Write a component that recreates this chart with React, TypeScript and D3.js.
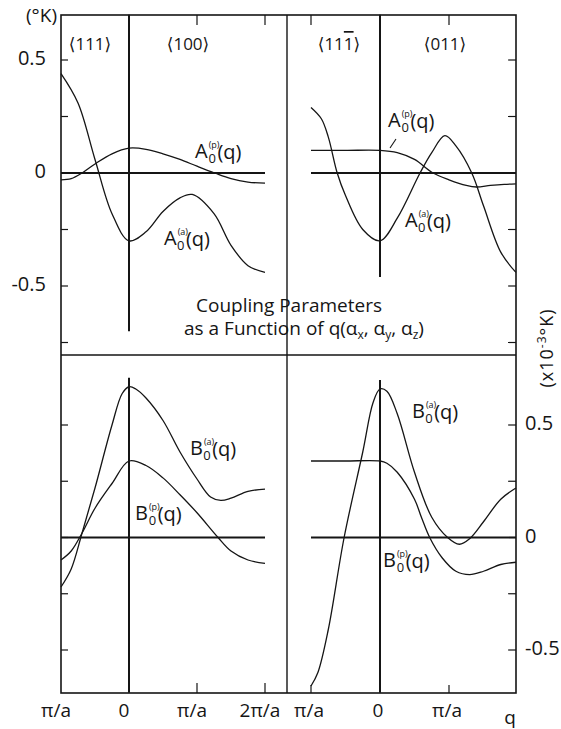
import React from 'react';
import * as d3 from 'd3';

// q in units of pi/a; negative side is the <111> direction
const qAaTL = [-1, -0.75, -0.5, -0.25, 0, 0.25, 0.5, 0.75, 0.93, 1.25, 1.5, 1.75, 2];
const vAaTL = [0.44, 0.31, 0.06, -0.18, -0.30, -0.26, -0.17, -0.11, -0.095, -0.18, -0.32, -0.41, -0.44];
const qApTL = [-1, -0.85, -0.69, -0.5, -0.25, 0, 0.25, 0.5, 0.75, 1, 1.26, 1.5, 1.75, 2];
const vApTL = [-0.03, -0.025, 0, 0.04, 0.085, 0.11, 0.105, 0.085, 0.06, 0.03, 0, -0.025, -0.04, -0.045];

const qAaTR = [-1, -0.85, -0.75, -0.62, -0.5, -0.25, 0, 0.25, 0.58, 0.75, 0.94, 1.1, 1.33, 1.5, 1.75, 1.97];
const vAaTR = [0.29, 0.24, 0.16, 0.0, -0.10, -0.25, -0.30, -0.20, 0, 0.09, 0.165, 0.12, 0.0, -0.145, -0.35, -0.44];
const qApTR = [-1, -0.5, 0, 0.25, 0.5, 0.77, 1.0, 1.25, 1.4, 1.6, 1.8, 1.97];
const vApTR = [0.10, 0.10, 0.10, 0.09, 0.06, 0.0, -0.03, -0.055, -0.062, -0.055, -0.05, -0.048];

const qBaBL = [-1, -0.85, -0.69, -0.5, -0.25, -0.1, 0, 0.1, 0.25, 0.5, 0.75, 1.0, 1.2, 1.35, 1.5, 1.75, 2];
const vBaBL = [-0.22, -0.14, 0.02, 0.22, 0.50, 0.64, 0.67, 0.66, 0.62, 0.52, 0.38, 0.26, 0.18, 0.165, 0.175, 0.205, 0.215];
const qBpBL = [-1, -0.85, -0.69, -0.5, -0.25, 0, 0.25, 0.5, 0.75, 1.0, 1.31, 1.5, 1.75, 2];
const vBpBL = [-0.10, -0.06, 0.02, 0.13, 0.24, 0.34, 0.32, 0.265, 0.19, 0.11, 0.0, -0.06, -0.10, -0.115];

const qBaBR = [-1, -0.9, -0.75, -0.52, -0.25, -0.1, 0, 0.1, 0.25, 0.5, 0.75, 0.98, 1.15, 1.3, 1.5, 1.75, 1.97];
const vBaBR = [-0.66, -0.6, -0.41, 0.0, 0.38, 0.6, 0.66, 0.65, 0.55, 0.29, 0.09, 0.0, -0.03, -0.005, 0.07, 0.17, 0.22];
const qBpBR = [-1, -0.5, 0, 0.1, 0.25, 0.5, 0.6, 0.72, 0.9, 1.1, 1.3, 1.5, 1.75, 1.97];
const vBpBR = [0.34, 0.34, 0.34, 0.33, 0.29, 0.17, 0.09, 0.0, -0.09, -0.15, -0.165, -0.15, -0.12, -0.11];

const yTicks = [0.5, 0.25, 0, -0.25, -0.5, -0.75];
const yTicksBottom = [0.5, 0.25, 0, -0.25, -0.5];
const yTickLabels = [0.5, 0, -0.5];
const xTicksLeft = [1, 2];
const xTicksRight = [-1, 1];
const xLabelsLeft = [{ q: -1, t: 'π/a' }, { q: 0, t: '0' }, { q: 1, t: 'π/a' }, { q: 2, t: '2π/a' }];
const xLabelsRight = [{ q: -1, t: 'π/a' }, { q: 0, t: '0' }, { q: 1, t: 'π/a' }];

const W = 561, H = 729;
const L = 61, R = 516, T = 15, B = 693, MID = 355, DIV = 287;
const FONT = '"Open Sans", "DejaVu Sans", sans-serif';
const INK = '#151515';

const xLeft = d3.scaleLinear().domain([-1, 2]).range([61, 265]);
const xRight = d3.scaleLinear().domain([-1, 2]).range([311, 518]);
const yTop = d3.scaleLinear().domain([-0.5, 0.5]).range([286, 60]);
const yBot = d3.scaleLinear().domain([-0.5, 0.5]).range([650, 425]);

const fmt = (v: number) => (v < 0 ? '-' + String(-v) : String(v));

function curve(qs: number[], vs: number[], x: any, y: any) {
  const line = d3.line<number>()
    .x((_, i) => x(qs[i]))
    .y((v) => y(v))
    .curve(d3.curveCatmullRom.alpha(0.5));
  return line(vs) || '';
}

// letter with stacked superscript (a)/(p) and subscript 0, then (q)
function SymLabel({ x, y, letter, sup }: { x: number; y: number; letter: string; sup: string }) {
  return (
    <text x={x} y={y} fontFamily={FONT} fill={INK} fontSize={20}>
      {letter}
      <tspan fontSize={9} dx={1} dy={-10}>({sup})</tspan>
      <tspan fontSize={13} dx={-11} dy={15}>0</tspan>
      <tspan fontSize={20} dx={1.5} dy={-4}>(q)</tspan>
    </text>
  );
}

function Panel({ x, y, series, vFrom, vTo, qEnd }: any) {
  return (
    <g>
      <line x1={x(-1)} x2={x(qEnd)} y1={y(0)} y2={y(0)} stroke={INK} strokeWidth={2} />
      <line x1={x(0)} x2={x(0)} y1={y(vFrom)} y2={y(vTo)} stroke={INK} strokeWidth={2} />
      {series.map((s: any, i: number) => (
        <path key={i} d={curve(s[0], s[1], x, y)} fill="none" stroke={INK} strokeWidth={1.3} />
      ))}
    </g>
  );
}

export default function App() {
  return (
    <svg width={W} height={H} style={{ position: 'absolute', left: 0, top: 0, background: '#fff' }}>
      <rect x={0} y={0} width={W} height={H} fill="#fff" />
      {/* frame */}
      <rect x={L} y={T} width={R - L} height={B - T} fill="none" stroke={INK} strokeWidth={1.6} />
      <line x1={L} x2={R} y1={MID} y2={MID} stroke={INK} strokeWidth={1.4} />
      <line x1={DIV} x2={DIV} y1={T} y2={B} stroke={INK} strokeWidth={1.4} />

      {/* left axis ticks */}
      {yTicks.map((v) => (
        <line key={'lt' + v} x1={L} x2={L + 7} y1={yTop(v)} y2={yTop(v)} stroke={INK} strokeWidth={1.2} />
      ))}
      {yTicksBottom.map((v) => (
        <line key={'lb' + v} x1={L} x2={L + 7} y1={yBot(v)} y2={yBot(v)} stroke={INK} strokeWidth={1.2} />
      ))}
      {/* right axis ticks */}
      {yTicks.map((v) => (
        <line key={'rt' + v} x1={R - 8} x2={R} y1={yTop(v)} y2={yTop(v)} stroke={INK} strokeWidth={1.2} />
      ))}
      {yTicksBottom.map((v) => (
        <line key={'rb' + v} x1={R - 8} x2={R} y1={yBot(v)} y2={yBot(v)} stroke={INK} strokeWidth={1.2} />
      ))}
      {/* top and bottom ticks */}
      {xTicksLeft.map((q) => (
        <g key={'xl' + q}>
          <line x1={xLeft(q)} x2={xLeft(q)} y1={T} y2={T + 10} stroke={INK} strokeWidth={1.2} />
          <line x1={xLeft(q)} x2={xLeft(q)} y1={B - 10} y2={B} stroke={INK} strokeWidth={1.2} />
        </g>
      ))}
      {xTicksRight.map((q) => (
        <g key={'xr' + q}>
          <line x1={xRight(q)} x2={xRight(q)} y1={T} y2={T + 10} stroke={INK} strokeWidth={1.2} />
          <line x1={xRight(q)} x2={xRight(q)} y1={B - 8} y2={B} stroke={INK} strokeWidth={1.2} />
        </g>
      ))}

      <Panel x={xLeft} y={yTop} vFrom={0.7} vTo={-0.7} qEnd={2}
        series={[[qAaTL, vAaTL], [qApTL, vApTL]]} />
      <Panel x={xRight} y={yTop} vFrom={0.7} vTo={-0.46} qEnd={1.97}
        series={[[qAaTR, vAaTR], [qApTR, vApTR]]} />
      <Panel x={xLeft} y={yBot} vFrom={0.71} vTo={-0.69} qEnd={2}
        series={[[qBaBL, vBaBL], [qBpBL, vBpBL]]} />
      <Panel x={xRight} y={yBot} vFrom={0.70} vTo={-0.69} qEnd={1.97}
        series={[[qBaBR, vBaBR], [qBpBR, vBpBR]]} />

      {/* leader line for A0(p) in the right panel */}
      <line x1={390} y1={148} x2={396} y2={139} stroke={INK} strokeWidth={1.1} />

      <g fontFamily={FONT} fill={INK}>
        {/* left axis labels */}
        <text x={57} y={17} fontSize={19} textAnchor="end" dominantBaseline="middle">(°K)</text>
        {yTickLabels.map((v) => (
          <text key={'yl' + v} x={46} y={yTop(v)} fontSize={20} textAnchor="end" dominantBaseline="middle">
            {fmt(v)}
          </text>
        ))}
        {/* right axis labels */}
        {yTickLabels.map((v) => (
          <text key={'yr' + v} x={525} y={yBot(v)} fontSize={20} dominantBaseline="middle">
            {fmt(v)}
          </text>
        ))}
        <text transform="translate(553,348) rotate(-90)" fontSize={18} textAnchor="middle" letterSpacing={1}>
          (x10<tspan fontSize={12} dy={-7}>-3</tspan><tspan dy={7}>°K)</tspan>
        </text>

        {/* direction headers */}
        <text x={90} y={50} fontSize={17} textAnchor="middle">⟨111⟩</text>
        <text x={188} y={50} fontSize={17} textAnchor="middle">⟨100⟩</text>
        <text x={339} y={50} fontSize={17} textAnchor="middle">⟨11<tspan textDecoration="overline">1</tspan>⟩</text>
        <text x={445} y={50} fontSize={17} textAnchor="middle">⟨011⟩</text>

        {/* caption */}
        <text x={289} y={312} fontSize={19} textAnchor="middle">Coupling Parameters</text>
        <text x={304} y={335} fontSize={19} textAnchor="middle">
          as a Function of q(α<tspan fontSize={12} dy={4}>x</tspan>
          <tspan dy={-4}>, α</tspan><tspan fontSize={12} dy={4}>y</tspan>
          <tspan dy={-4}>, α</tspan><tspan fontSize={12} dy={4}>z</tspan><tspan dy={-4}>)</tspan>
        </text>

        {/* bottom q labels */}
        {xLabelsLeft.map((d) => (
          <text key={'bl' + d.q} x={xLeft(d.q) - 5} y={717} fontSize={19} textAnchor="middle">{d.t}</text>
        ))}
        {xLabelsRight.map((d) => (
          <text key={'br' + d.q} x={xRight(d.q) - 2} y={717} fontSize={19} textAnchor="middle">{d.t}</text>
        ))}
        <text x={510} y={724} fontSize={19} textAnchor="middle">q</text>
      </g>

      <SymLabel x={195} y={158} letter="A" sup="p" />
      <SymLabel x={164} y={245} letter="A" sup="a" />
      <SymLabel x={388} y={127} letter="A" sup="p" />
      <SymLabel x={405} y={227} letter="A" sup="a" />
      <SymLabel x={190} y={455} letter="B" sup="a" />
      <SymLabel x={135} y={520} letter="B" sup="p" />
      <SymLabel x={412} y={418} letter="B" sup="a" />
      <SymLabel x={383} y={567} letter="B" sup="p" />
    </svg>
  );
}
